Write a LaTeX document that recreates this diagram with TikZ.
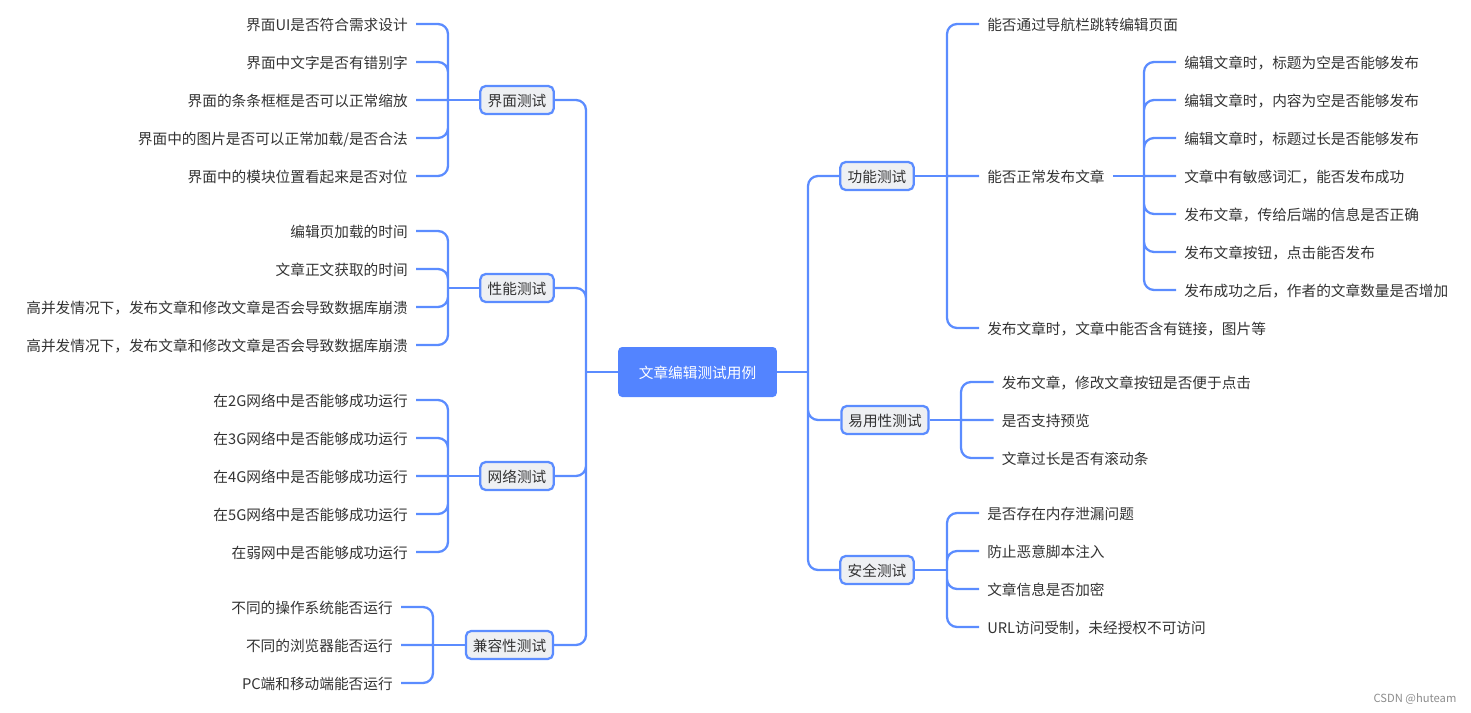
\documentclass[tikz,border=0pt]{standalone}
\usepackage{fontspec}
\setmainfont{Noto Sans CJK SC}
\usetikzlibrary{positioning}
\definecolor{linkblue}{HTML}{5B8CFF}
\definecolor{rootblue}{HTML}{5384FF}
\definecolor{topicgray}{HTML}{EEF0F3}
\definecolor{textgray}{HTML}{333333}

\begin{document}
\begin{tikzpicture}[x=.75pt, y=-.75pt, auto, node distance=28.5pt, font=\fontsize{11}{13}\selectfont]
\tikzstyle{link}=[draw=linkblue, line width=1.7pt, rounded corners=7.5pt]
\tikzstyle{root}=[fill=rootblue, text=white, rounded corners=3pt, minimum width=119pt, minimum height=37.5pt, text height=11.5pt, text depth=2pt]
\tikzstyle{topic}=[draw=linkblue, fill=topicgray, text=textgray, line width=1.7pt, rounded corners=4pt, minimum width=55pt, minimum height=21pt, inner xsep=5.2pt, inner ysep=0pt, text height=11.5pt, text depth=2pt]
\tikzstyle{leafL}=[text=textgray, anchor=east, inner xsep=6pt, inner ysep=0pt, text height=11.5pt, text depth=2pt]
\tikzstyle{leafR}=[text=textgray, anchor=west, inner xsep=6pt, inner ysep=0pt, text height=11.5pt, text depth=2pt]
\useasboundingbox (0,0) rectangle (1471,713);

\node[root]    (Root)   at (697.5,372)  {文章编辑测试用例};

% left side
\node[topic]   (UI)     at (517,100)    {界面测试};
\node[topic]   (Perf)   at (517,288)    {性能测试};
\node[topic]   (Net)    at (517,476)    {网络测试};
\node[topic]   (Compat) at (509.5,645)  {兼容性测试};

\node[leafL]   (UI1)    at (416,24)     {界面UI是否符合需求设计};
\node[below=of UI1.east, leafL]   (UI2)  {界面中文字是否有错别字};
\node[below=of UI2.east, leafL]   (UI3)  {界面的条条框框是否可以正常缩放};
\node[below=of UI3.east, leafL]   (UI4)  {界面中的图片是否可以正常加载/是否合法};
\node[below=of UI4.east, leafL]   (UI5)  {界面中的模块位置看起来是否对位};

\node[leafL]   (Perf1)  at (416,231)    {编辑页加载的时间};
\node[below=of Perf1.east, leafL] (Perf2) {文章正文获取的时间};
\node[below=of Perf2.east, leafL] (Perf3) {高并发情况下，发布文章和修改文章是否会导致数据库崩溃};
\node[below=of Perf3.east, leafL] (Perf4) {高并发情况下，发布文章和修改文章是否会导致数据库崩溃};

\node[leafL]   (Net1)   at (416,400)    {在2G网络中是否能够成功运行};
\node[below=of Net1.east, leafL]  (Net2) {在3G网络中是否能够成功运行};
\node[below=of Net2.east, leafL]  (Net3) {在4G网络中是否能够成功运行};
\node[below=of Net3.east, leafL]  (Net4) {在5G网络中是否能够成功运行};
\node[below=of Net4.east, leafL]  (Net5) {在弱网中是否能够成功运行};

\node[leafL]   (Compat1) at (401,607)   {不同的操作系统能否运行};
\node[below=of Compat1.east, leafL] (Compat2) {不同的浏览器能否运行};
\node[below=of Compat2.east, leafL] (Compat3) {PC端和移动端能否运行};

% right side
\node[topic]   (Func)   at (877,176)    {功能测试};
\node[topic]   (Ease)   at (885,420)    {易用性测试};
\node[topic]   (Safe)   at (877,570)    {安全测试};

\node[leafR]   (Func1)  at (979,24)     {能否通过导航栏跳转编辑页面};
\node[leafR]   (Func2)  at (979,176)    {能否正常发布文章};
\node[leafR]   (Func3)  at (979,328)    {发布文章时，文章中能否含有链接，图片等};

\node[leafR]   (Pub1)   at (1176,62)    {编辑文章时，标题为空是否能够发布};
\node[below=of Pub1.west, leafR]  (Pub2) {编辑文章时，内容为空是否能够发布};
\node[below=of Pub2.west, leafR]  (Pub3) {编辑文章时，标题过长是否能够发布};
\node[below=of Pub3.west, leafR]  (Pub4) {文章中有敏感词汇，能否发布成功};
\node[below=of Pub4.west, leafR]  (Pub5) {发布文章，传给后端的信息是否正确};
\node[below=of Pub5.west, leafR]  (Pub6) {发布文章按钮，点击能否发布};
\node[below=of Pub6.west, leafR]  (Pub7) {发布成功之后，作者的文章数量是否增加};

\node[leafR]   (Ease1)  at (993.5,382)  {发布文章，修改文章按钮是否便于点击};
\node[below=of Ease1.west, leafR] (Ease2) {是否支持预览};
\node[below=of Ease2.west, leafR] (Ease3) {文章过长是否有滚动条};

\node[leafR]   (Safe1)  at (979,513)    {是否存在内存泄漏问题};
\node[below=of Safe1.west, leafR] (Safe2) {防止恶意脚本注入};
\node[below=of Safe2.west, leafR] (Safe3) {文章信息是否加密};
\node[below=of Safe3.west, leafR] (Safe4) {URL访问受制，未经授权不可访问};

\node[text=black!45, font=\fontsize{8.4}{10}\selectfont] (Mark) at (1415,699) {CSDN @huteam};

% trunks
\coordinate (RootL)   at (586,372);
\coordinate (RootR)   at (808,372);
\coordinate (UIt)     at (448,100);
\coordinate (Perft)   at (448,288);
\coordinate (Nett)    at (448,476);
\coordinate (Compatt) at (433,645);
\coordinate (Funct)   at (947,176);
\coordinate (Pubt)    at (1144,176);
\coordinate (Easet)   at (961,420);
\coordinate (Safet)   at (947,570);

\draw[link] (Root.west) -- (RootL) (Root.east) -- (RootR);
\draw[link] (RootL) |- (UI.east) (RootL) |- (Perf.east) (RootL) |- (Net.east) (RootL) |- (Compat.east);
\draw[link] (RootR) |- (Func.west) (RootR) |- (Ease.west) (RootR) |- (Safe.west);

\draw[link] (UI.west) -- (UIt) (Perf.west) -- (Perft) (Net.west) -- (Nett) (Compat.west) -- (Compatt);
\draw[link] (Func.east) -- (Funct) (Ease.east) -- (Easet) (Safe.east) -- (Safet) (Func2.east) -- (Pubt);

\draw[link] (UIt) |- (UI1.east) (UIt) |- (UI2.east) (UIt) -- (UI3.east) (UIt) |- (UI4.east) (UIt) |- (UI5.east);
\draw[link] (Perft) |- (Perf1.east) (Perft) |- (Perf2.east) (Perft) |- (Perf3.east) (Perft) |- (Perf4.east);
\draw[link] (Nett) |- (Net1.east) (Nett) |- (Net2.east) (Nett) -- (Net3.east) (Nett) |- (Net4.east) (Nett) |- (Net5.east);
\draw[link] (Compatt) |- (Compat1.east) (Compatt) -- (Compat2.east) (Compatt) |- (Compat3.east);

\draw[link] (Funct) |- (Func1.west) (Funct) -- (Func2.west) (Funct) |- (Func3.west);
\draw[link] (Pubt) |- (Pub1.west) (Pubt) |- (Pub2.west) (Pubt) |- (Pub3.west) (Pubt) -- (Pub4.west) (Pubt) |- (Pub5.west) (Pubt) |- (Pub6.west) (Pubt) |- (Pub7.west);
\draw[link] (Easet) |- (Ease1.west) (Easet) -- (Ease2.west) (Easet) |- (Ease3.west);
\draw[link] (Safet) |- (Safe1.west) (Safet) |- (Safe2.west) (Safet) |- (Safe3.west) (Safet) |- (Safe4.west);
\end{tikzpicture}
\end{document}
